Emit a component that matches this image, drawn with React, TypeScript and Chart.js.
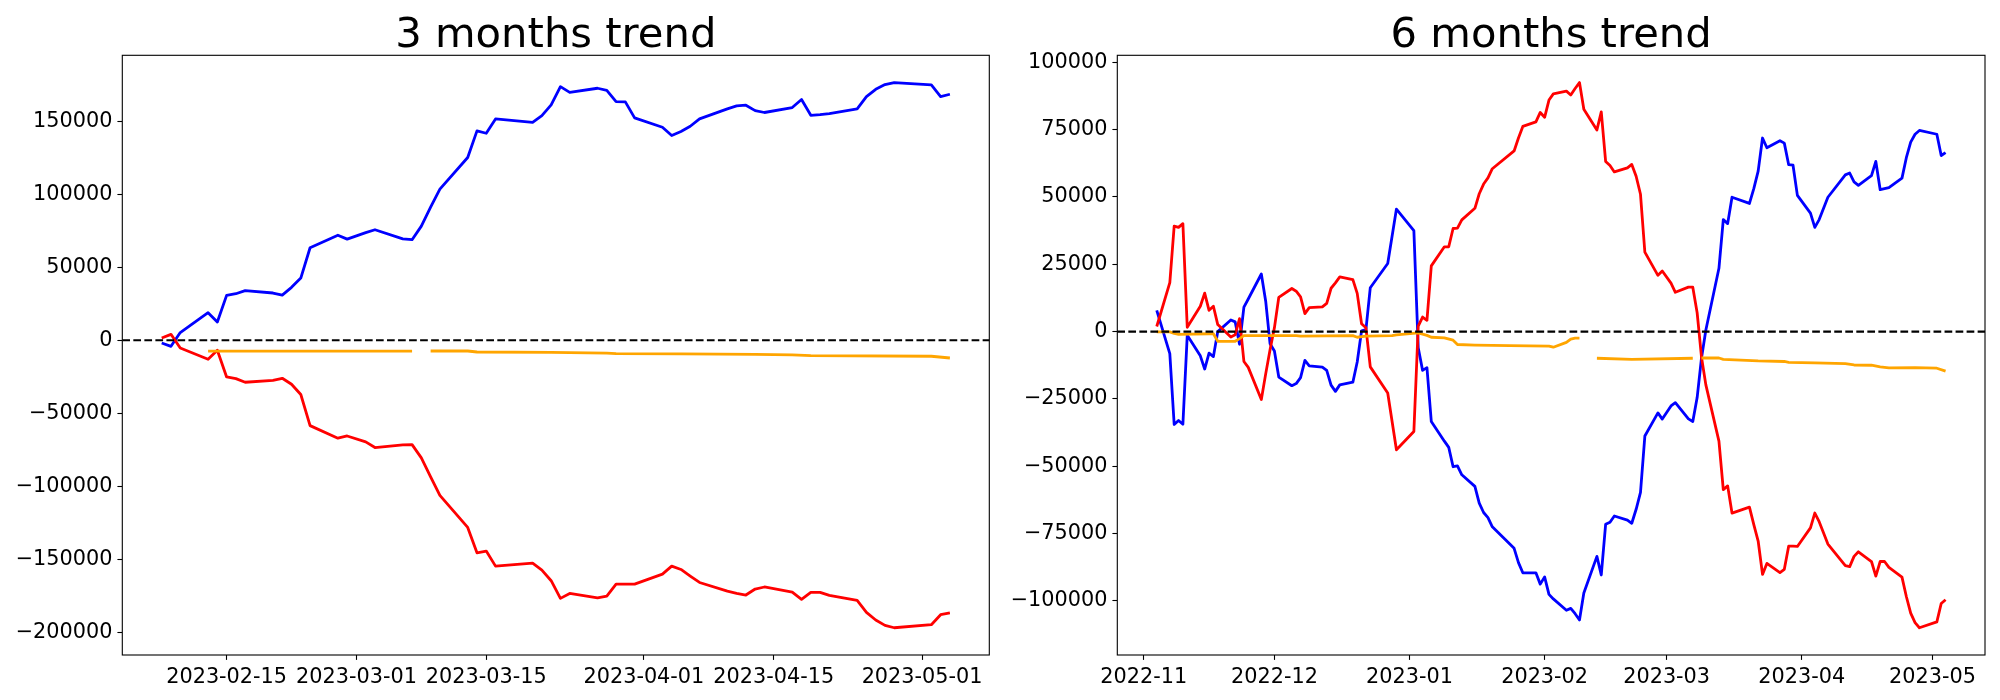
import React, { useEffect, useRef } from "react";
import { Chart, registerables } from "chart.js";

Chart.register(...registerables);

const FONT = "'DejaVu Sans', 'Liberation Sans', sans-serif";

// ---------------- 3 months trend ----------------
const leftTitle = "3 months trend";
const leftDates = [
  "2023-02-08", "2023-02-09", "2023-02-10", "2023-02-13", "2023-02-14", "2023-02-15", "2023-02-16", "2023-02-17",
  "2023-02-20", "2023-02-21", "2023-02-22", "2023-02-23", "2023-02-24", "2023-02-27", "2023-02-28",
  "2023-03-02", "2023-03-03", "2023-03-06", "2023-03-07", "2023-03-08", "2023-03-09", "2023-03-10",
  "2023-03-13", "2023-03-14", "2023-03-15", "2023-03-16", "2023-03-20", "2023-03-21", "2023-03-22",
  "2023-03-23", "2023-03-24", "2023-03-27", "2023-03-28", "2023-03-29", "2023-03-30", "2023-03-31",
  "2023-04-03", "2023-04-04", "2023-04-05", "2023-04-06", "2023-04-07", "2023-04-10", "2023-04-11",
  "2023-04-12", "2023-04-13", "2023-04-14", "2023-04-17", "2023-04-18", "2023-04-19", "2023-04-20",
  "2023-04-21", "2023-04-24", "2023-04-25", "2023-04-26", "2023-04-27", "2023-04-28",
  "2023-05-02", "2023-05-03", "2023-05-04",
];
const leftBlue = [
  -1800, -4100, 5300, 18900, 12500, 30800, 31900, 34000, 32400, 31000, 36300, 42600, 63400, 72000, 69300,
  73700, 75700, 69500, 68900, 78200, 91200, 103500, 125200, 143400, 141800, 151600, 149300, 153900, 161200,
  173700, 169800, 172600, 171200, 163500, 163300, 152300,
  145900, 140200, 143000, 146600, 151600, 158500, 160500, 161000, 157300, 156000, 159400, 164900, 154100,
  154600, 155300, 158500, 166900, 171900, 175100, 176500,
  174900, 166900, 168500,
];
const leftRed = [
  1600, 4100, -5300, -13000, -6800, -25100, -26200, -28700, -27400, -26000, -30100, -37100, -58400, -67000, -65500,
  -69500, -73400, -71600, -71400, -80500, -93500, -106200, -128100, -145500, -144300, -154600, -152500, -157300,
  -164600, -176700, -173300, -176300, -175100, -166900, -166900, -166900,
  -160100, -154600, -156900, -161400, -165800, -171700, -173300, -174400, -170300, -168900, -172400, -177400,
  -172600, -172600, -174600, -178100, -186300, -191500, -195200, -196800,
  -194700, -187900, -186700,
];
const leftOrangeDates = [
  "2023-02-13", "2023-03-07", "2023-03-08", "2023-03-09", "2023-03-13", "2023-03-14", "2023-03-22",
  "2023-03-28", "2023-03-29", "2023-04-05", "2023-04-13", "2023-04-17", "2023-04-19", "2023-05-02", "2023-05-04",
];
const leftOrange = [
  -7400, -7400, null, -7300, -7300, -8000, -8200, -8700, -9100, -9300, -9600, -10000, -10500, -10900, -12100,
];
const leftXTicks = ["2023-02-15", "2023-03-01", "2023-03-15", "2023-04-01", "2023-04-15", "2023-05-01"];
const leftYTicks = [-200000, -150000, -100000, -50000, 0, 50000, 100000, 150000];

// ---------------- 6 months trend ----------------
const rightTitle = "6 months trend";
const rightDates = [
  "2022-11-04", "2022-11-07", "2022-11-08", "2022-11-09", "2022-11-10", "2022-11-11", "2022-11-14", "2022-11-15",
  "2022-11-16", "2022-11-17", "2022-11-18", "2022-11-21", "2022-11-22", "2022-11-23", "2022-11-24", "2022-11-25",
  "2022-11-28", "2022-11-29", "2022-11-30",
  "2022-12-01", "2022-12-02", "2022-12-05", "2022-12-06", "2022-12-07", "2022-12-08", "2022-12-09", "2022-12-12",
  "2022-12-13", "2022-12-14", "2022-12-15", "2022-12-16", "2022-12-19", "2022-12-20", "2022-12-21", "2022-12-22",
  "2022-12-23", "2022-12-27", "2022-12-29",
  "2023-01-02", "2023-01-03", "2023-01-04", "2023-01-05", "2023-01-06", "2023-01-09", "2023-01-10", "2023-01-11",
  "2023-01-12", "2023-01-13", "2023-01-16", "2023-01-17", "2023-01-18", "2023-01-19", "2023-01-20", "2023-01-25",
  "2023-01-26", "2023-01-27", "2023-01-30", "2023-01-31",
  "2023-02-01", "2023-02-02", "2023-02-03", "2023-02-06", "2023-02-07", "2023-02-08", "2023-02-09", "2023-02-10",
  "2023-02-13", "2023-02-14", "2023-02-15", "2023-02-16", "2023-02-17", "2023-02-20", "2023-02-21", "2023-02-22",
  "2023-02-23", "2023-02-24", "2023-02-27", "2023-02-28",
  "2023-03-02", "2023-03-03", "2023-03-06", "2023-03-07", "2023-03-08", "2023-03-09", "2023-03-10", "2023-03-13",
  "2023-03-14", "2023-03-15", "2023-03-16", "2023-03-20", "2023-03-21", "2023-03-22", "2023-03-23", "2023-03-24",
  "2023-03-27", "2023-03-28", "2023-03-29", "2023-03-30", "2023-03-31",
  "2023-04-03", "2023-04-04", "2023-04-05", "2023-04-07", "2023-04-11", "2023-04-12", "2023-04-13", "2023-04-14",
  "2023-04-17", "2023-04-18", "2023-04-19", "2023-04-20", "2023-04-21", "2023-04-24", "2023-04-25", "2023-04-26",
  "2023-04-27", "2023-04-28",
  "2023-05-02", "2023-05-03", "2023-05-04",
];
const rightBlue = [
  7900, -8200, -34500, -33000, -34400, -1400, -9000, -13900, -8000, -9300, 0, 4300, 3600, -4700, 9100, 12100,
  21400, 11300, -4500,
  -7200, -16900, -20100, -19300, -17100, -10700, -12700, -13200, -14400, -19900, -22200, -19800, -18800, -11300,
  300, 700, 16300, 25300, 45500,
  37500, -6000, -14400, -13400, -33400, -40700, -43000, -50200, -49900, -53200, -57500, -63700, -67200, -69100,
  -72500, -80500, -85800, -89600, -89600, -93800,
  -91100, -97600, -99300, -103500, -102800, -104800, -107100, -97100, -83500, -90400, -71600, -70800, -68500,
  -70000, -71200, -66000, -59700, -38800, -30200, -32500,
  -27600, -26400, -32400, -33400, -24500, -9800, 600, 23500, 41600, 40100, 49900, 47600, 53100, 59600, 71900,
  68300, 70900, 70000, 62000, 61800, 50600,
  44000, 38700, 41600, 49900, 58200, 58900, 55600, 54300, 57900, 63200, 52700, 53100, 53500, 57000, 64600, 70400,
  73300, 74700,
  73300, 65400, 66500,
];
const rightRed = [
  1900, 18200, 39200, 38700, 40100, 1600, 9400, 14300, 7900, 9400, 2600, -2000, -1150, 4800, -11100, -13300,
  -25250, -15700, -6700,
  1400, 12700, 16000, 15000, 12900, 6700, 8900, 9200, 10500, 16100, 18100, 20300, 19300, 14200, 2900, 1400,
  -13100, -22800, -43900,
  -37100, 2000, 5400, 4200, 24400, 31500, 31500, 38300, 38400, 41500, 45800, 51200, 54800, 57100, 60500, 67100,
  71900, 76200, 77900, 81400,
  79600, 86000, 88300, 89300, 87900, 90300, 92500, 82600, 74900, 81600, 63200, 61700, 59300, 60800, 62100, 57700,
  51000, 29500, 20900, 22500,
  18000, 14600, 16500, 16500, 7000, -9500, -19800, -40700, -58700, -57300, -67400, -65200, -71700, -77800, -90200,
  -86100, -89500, -88300, -79700, -79700, -79800,
  -72900, -67400, -70600, -78900, -86900, -87300, -83500, -81800, -85400, -90800, -85400, -85400, -87600, -91200,
  -98400, -104600, -108100, -110000,
  -107800, -101000, -99600,
];
const rightOrangeDates = [
  "2022-11-04", "2022-11-07", "2022-11-08", "2022-11-09", "2022-11-16", "2022-11-17", "2022-11-18", "2022-11-22",
  "2022-11-23", "2022-11-24", "2022-12-06", "2022-12-07", "2022-12-19", "2022-12-20", "2022-12-22", "2022-12-28",
  "2022-12-29", "2023-01-03", "2023-01-05", "2023-01-06", "2023-01-09", "2023-01-11", "2023-01-12", "2023-01-16",
  "2023-01-24", "2023-02-02", "2023-02-03", "2023-02-06", "2023-02-07", "2023-02-08", "2023-02-09", "2023-02-10",
  "2023-02-13", "2023-02-21", "2023-03-07", "2023-03-08", "2023-03-09", "2023-03-13", "2023-03-14", "2023-03-22",
  "2023-03-28", "2023-03-29", "2023-04-04", "2023-04-11", "2023-04-13", "2023-04-17", "2023-04-19", "2023-04-21",
  "2023-04-27", "2023-05-02", "2023-05-04",
];
const rightOrange = [
  -100, -100, -700, -1000, -800, -800, -3600, -3600,
  -2600, -1500, -1500, -1700, -1500, -2100, -1700, -1500,
  -1200, -500, -1400, -2100, -2300, -3200, -4800, -5000,
  -5200, -5400, -5800, -4000, -2800, -2400, -2400, null,
  -9900, -10300, -9900, null, -9800, -9800, -10300, -10900,
  -11100, -11400, -11600, -11900, -12400, -12500, -13100, -13500,
  -13400, -13600, -14700,
];
const rightXTicks = ["2022-11", "2022-12", "2023-01", "2023-02", "2023-03", "2023-04", "2023-05"];
const rightYTicks = [-100000, -75000, -50000, -25000, 0, 25000, 50000, 75000, 100000];

// ---------------- helpers ----------------
const DAY_MS = 86400000;
const toDay = (s: string): number => {
  const p = s.split("-").map(Number);
  return Date.UTC(p[0], p[1] - 1, p[2] || 1) / DAY_MS;
};
const fmtNum = (v: number): string => (v < 0 ? "\u2212" + String(Math.abs(v)) : String(v));

type PanelSpec = {
  title: string;
  dates: string[];
  blue: number[];
  red: number[];
  netDates: string[];
  net: (number | null)[];
  xTicks: string[];
  yTicks: number[];
  areaLeft: number;
  areaRight: number;
  canvasWidth: number;
};

const AREA_TOP = 55.3;
const AREA_BOTTOM = 655;
const CANVAS_H = 700;
const TICK_FONT = 20.8;
const TITLE_FONT = 41.7;

function makeChart(canvas: HTMLCanvasElement, spec: PanelSpec): Chart {
  const xs = spec.dates.map(toDay);
  const nxs = spec.netDates.map(toDay);
  const allX = xs.concat(nxs);
  const xMinD = Math.min(...allX);
  const xMaxD = Math.max(...allX);
  const xPad = (xMaxD - xMinD) * 0.05;
  const netVals = spec.net.filter((v) => v !== null) as number[];
  const allY = spec.blue.concat(spec.red, netVals);
  const yMinD = Math.min(...allY);
  const yMaxD = Math.max(...allY);
  const yPad = (yMaxD - yMinD) * 0.05;
  const labelMap = new Map<number, string>(spec.xTicks.map((t) => [toDay(t), t]));

  const decor = {
    id: "decor",
    afterDatasetsDraw(chart: any) {
      const { ctx, chartArea, scales } = chart;
      const y0 = scales.y.getPixelForValue(0);
      ctx.save();
      ctx.strokeStyle = "#000";
      ctx.lineWidth = 2.08;
      ctx.setLineDash([7.7, 3.33]);
      ctx.beginPath();
      ctx.moveTo(chartArea.left, y0);
      ctx.lineTo(chartArea.right, y0);
      ctx.stroke();
      ctx.setLineDash([]);
      ctx.lineWidth = 1.1;
      ctx.strokeRect(chartArea.left, chartArea.top, chartArea.right - chartArea.left, chartArea.bottom - chartArea.top);
      ctx.restore();
    },
    afterDraw(chart: any) {
      const { ctx, chartArea } = chart;
      ctx.save();
      ctx.fillStyle = "#000";
      ctx.font = `${TITLE_FONT}px ${FONT}`;
      ctx.textAlign = "center";
      ctx.textBaseline = "alphabetic";
      ctx.fillText(spec.title, (chartArea.left + chartArea.right) / 2, chartArea.top - 8.3);
      ctx.restore();
    },
  };

  const lineStyle = {
    pointRadius: 0,
    pointHoverRadius: 0,
    tension: 0,
    fill: false,
    borderJoinStyle: "round" as const,
    borderCapStyle: "butt" as const,
    spanGaps: false,
  };

  return new Chart(canvas, {
    type: "line",
    data: {
      datasets: [
        {
          ...lineStyle,
          label: "long",
          data: xs.map((x, i) => ({ x, y: spec.blue[i] })),
          borderColor: "#0000ff",
          borderWidth: 2.8,
          order: 3,
        },
        {
          ...lineStyle,
          label: "short",
          data: xs.map((x, i) => ({ x, y: spec.red[i] })),
          borderColor: "#ff0000",
          borderWidth: 2.8,
          order: 2,
        },
        {
          ...lineStyle,
          label: "net",
          data: nxs.map((x, i) => ({ x, y: spec.net[i] })),
          borderColor: "#ffa500",
          borderWidth: 2.8,
          order: 1,
        },
      ],
    },
    options: {
      responsive: false,
      maintainAspectRatio: false,
      animation: false,
      events: [],
      layout: {
        padding: { left: 0, right: spec.canvasWidth - spec.areaRight, top: AREA_TOP, bottom: 0 },
      },
      plugins: {
        legend: { display: false },
        tooltip: { enabled: false },
        title: { display: false },
      },
      scales: {
        x: {
          type: "linear",
          min: xMinD - xPad,
          max: xMaxD + xPad,
          afterBuildTicks: (scale: any) => {
            scale.ticks = spec.xTicks.map((t) => ({ value: toDay(t) }));
          },
          afterFit: (scale: any) => {
            scale.height = CANVAS_H - AREA_BOTTOM;
          },
          ticks: {
            autoSkip: false,
            maxRotation: 0,
            minRotation: 0,
            padding: 4.9,
            color: "#000",
            font: { family: FONT, size: TICK_FONT },
            callback: (v: any) => labelMap.get(Number(v)) ?? "",
          },
          grid: {
            display: true,
            drawOnChartArea: false,
            drawTicks: true,
            tickLength: 4.9,
            tickWidth: 1.1,
            tickColor: "#000",
            color: "#000",
          },
          border: { display: false },
        },
        y: {
          type: "linear",
          min: yMinD - yPad,
          max: yMaxD + yPad,
          afterBuildTicks: (scale: any) => {
            scale.ticks = spec.yTicks.map((v) => ({ value: v }));
          },
          afterFit: (scale: any) => {
            scale.width = spec.areaLeft;
          },
          ticks: {
            padding: 4.9,
            color: "#000",
            font: { family: FONT, size: TICK_FONT },
            callback: (v: any) => fmtNum(Number(v)),
          },
          grid: {
            display: true,
            drawOnChartArea: false,
            drawTicks: true,
            tickLength: 4.9,
            tickWidth: 1.1,
            tickColor: "#000",
            color: "#000",
          },
          border: { display: false },
        },
      },
    },
    plugins: [decor],
  } as any);
}

const leftSpec: PanelSpec = {
  title: leftTitle,
  dates: leftDates,
  blue: leftBlue,
  red: leftRed,
  netDates: leftOrangeDates,
  net: leftOrange,
  xTicks: leftXTicks,
  yTicks: leftYTicks,
  areaLeft: 122.3,
  areaRight: 989.3,
  canvasWidth: 1000,
};

const rightSpec: PanelSpec = {
  title: rightTitle,
  dates: rightDates,
  blue: rightBlue,
  red: rightRed,
  netDates: rightOrangeDates,
  net: rightOrange,
  xTicks: rightXTicks,
  yTicks: rightYTicks,
  areaLeft: 117.3,
  areaRight: 985,
  canvasWidth: 1000,
};

export default function App() {
  const leftRef = useRef<HTMLCanvasElement | null>(null);
  const rightRef = useRef<HTMLCanvasElement | null>(null);

  useEffect(() => {
    const charts: Chart[] = [];
    if (leftRef.current) charts.push(makeChart(leftRef.current, leftSpec));
    if (rightRef.current) charts.push(makeChart(rightRef.current, rightSpec));
    return () => {
      charts.forEach((c) => c.destroy());
    };
  }, []);

  return (
    <div style={{ position: "absolute", left: 0, top: 0, width: 2000, height: 700, background: "#fff" }}>
      <canvas
        ref={leftRef}
        width={1000}
        height={700}
        style={{ position: "absolute", left: 0, top: 0, width: 1000, height: 700 }}
      />
      <canvas
        ref={rightRef}
        width={1000}
        height={700}
        style={{ position: "absolute", left: 1000, top: 0, width: 1000, height: 700 }}
      />
    </div>
  );
}
